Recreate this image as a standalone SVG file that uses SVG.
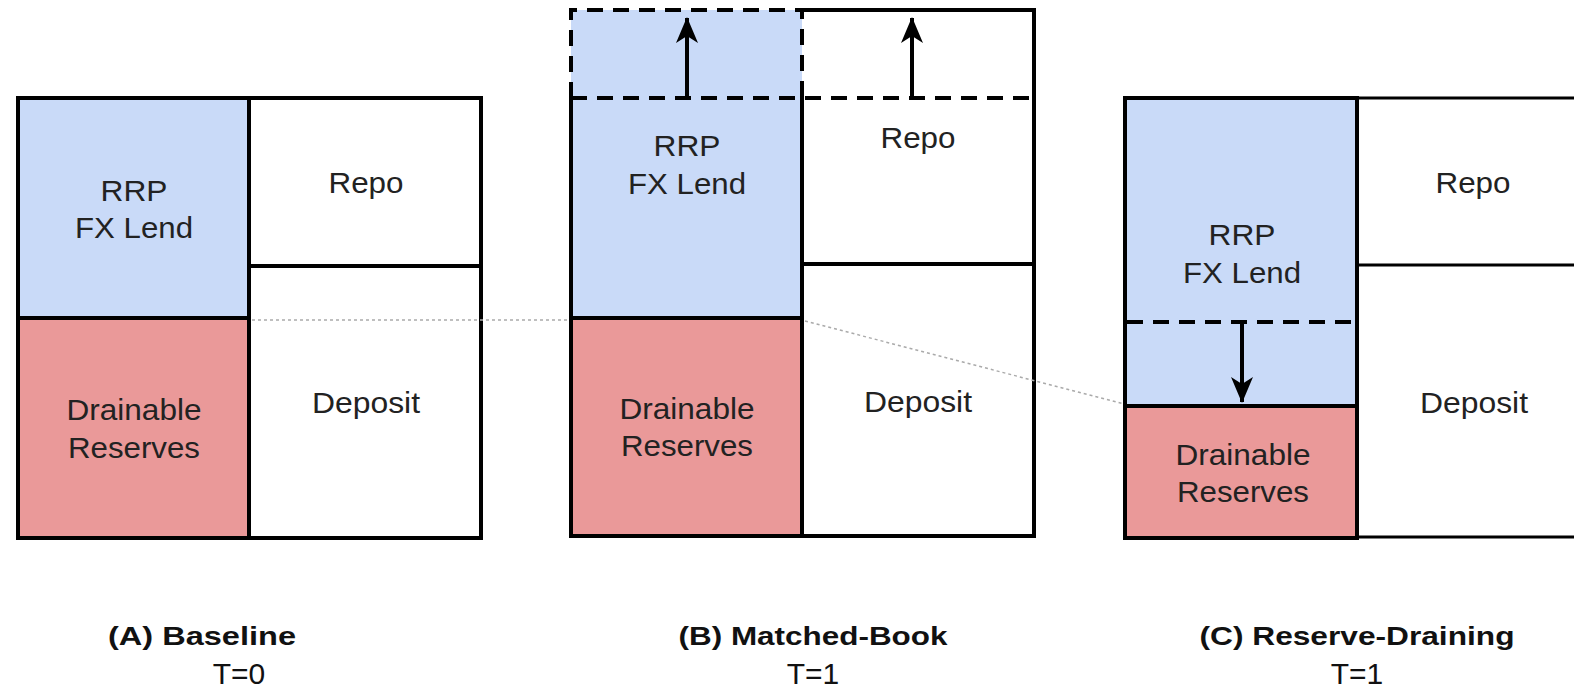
<svg xmlns="http://www.w3.org/2000/svg" width="1574" height="700" viewBox="0 0 1574 700">
<style>
.blue{fill:#c9daf8}
.red{fill:#ea9999}
.white{fill:#ffffff}
.solid{fill:none;stroke:#000;stroke-width:4;stroke-linejoin:miter;stroke-linecap:square}
.thin{fill:none;stroke:#000;stroke-width:3}
.dash{fill:none;stroke:#000;stroke-width:4;stroke-dasharray:16 10}
.dot{fill:none;stroke:#aaaaaa;stroke-width:1.5;stroke-dasharray:3 3}
.shaft{fill:none;stroke:#000;stroke-width:4}
.t{font-family:"Liberation Sans",Arial,sans-serif;font-size:29px;fill:#222;text-anchor:middle}
.cap{font-family:"Liberation Sans",Arial,sans-serif;font-size:26px;font-weight:bold;fill:#111;text-anchor:middle}
.tt{font-family:"Liberation Sans",Arial,sans-serif;font-size:30px;fill:#111;text-anchor:middle}
</style>
<defs>
<marker id="head" viewBox="0 0 26 24" refX="25" refY="12" markerWidth="26" markerHeight="24" markerUnits="userSpaceOnUse" orient="auto">
<path d="M0,1 L26,12 L0,23 L7,12 Z" fill="#000"/>
</marker>
</defs>
<rect width="1574" height="700" fill="#ffffff"/>

<g id="panelA">
<rect class="blue" x="18" y="98" width="231" height="220"/>
<rect class="red" x="18" y="318" width="231" height="220"/>
<rect class="white" x="249" y="98" width="232" height="440"/>
<path class="solid" d="M18,98 H481 V538 H18 Z M249,98 V538 M18,318 H249 M249,266 H481"/>
<text class="t" x="134" y="201" textLength="67" lengthAdjust="spacingAndGlyphs">RRP</text>
<text class="t" x="134" y="238" textLength="118" lengthAdjust="spacingAndGlyphs">FX Lend</text>
<text class="t" x="366" y="193" textLength="75" lengthAdjust="spacingAndGlyphs">Repo</text>
<text class="t" x="366" y="413" textLength="108" lengthAdjust="spacingAndGlyphs">Deposit</text>
<text class="t" x="134" y="420" textLength="135" lengthAdjust="spacingAndGlyphs">Drainable</text>
<text class="t" x="134" y="458" textLength="132" lengthAdjust="spacingAndGlyphs">Reserves</text>
</g>

<g id="panelB">
<rect class="blue" x="571" y="10" width="231" height="308"/>
<rect class="red" x="571" y="318" width="231" height="218"/>
<rect class="white" x="802" y="10" width="232" height="526"/>
<path class="solid" d="M571,98 V536 H1034 V10 H802 M802,98 V536 M571,318 H802 M802,264 H1034"/>
<path class="dash" d="M571,98 V10 H802 V98 M571,98 H1034"/>
<text class="t" x="687" y="156" textLength="67" lengthAdjust="spacingAndGlyphs">RRP</text>
<text class="t" x="687" y="194" textLength="118" lengthAdjust="spacingAndGlyphs">FX Lend</text>
<text class="t" x="918" y="148" textLength="75" lengthAdjust="spacingAndGlyphs">Repo</text>
<text class="t" x="918" y="412" textLength="108" lengthAdjust="spacingAndGlyphs">Deposit</text>
<text class="t" x="687" y="419" textLength="135" lengthAdjust="spacingAndGlyphs">Drainable</text>
<text class="t" x="687" y="456" textLength="132" lengthAdjust="spacingAndGlyphs">Reserves</text>
</g>

<g id="panelC">
<rect class="blue" x="1125" y="98" width="232" height="308"/>
<rect class="red" x="1125" y="406" width="232" height="132"/>
<rect class="white" x="1357" y="98" width="232" height="440"/>
<path class="solid" d="M1357,98 H1125 V538 H1357 Z M1125,406 H1357"/>
<path class="thin" d="M1357,98 H1580 M1357,265 H1580 M1357,537 H1580"/>
<path class="dash" d="M1127,322 H1355"/>
<text class="t" x="1242" y="245" textLength="67" lengthAdjust="spacingAndGlyphs">RRP</text>
<text class="t" x="1242" y="283" textLength="118" lengthAdjust="spacingAndGlyphs">FX Lend</text>
<text class="t" x="1473" y="193" textLength="75" lengthAdjust="spacingAndGlyphs">Repo</text>
<text class="t" x="1474" y="413" textLength="108" lengthAdjust="spacingAndGlyphs">Deposit</text>
<text class="t" x="1243" y="465" textLength="135" lengthAdjust="spacingAndGlyphs">Drainable</text>
<text class="t" x="1243" y="502" textLength="132" lengthAdjust="spacingAndGlyphs">Reserves</text>
</g>

<g id="connectors">
<path class="dot" d="M252,320 H570"/>
<path class="dot" d="M805,321 L1124,404"/>
<path class="shaft" d="M687,98 V18" marker-end="url(#head)"/>
<path class="shaft" d="M912,98 V18" marker-end="url(#head)"/>
<path class="shaft" d="M1242,322 V402" marker-end="url(#head)"/>
</g>

<g id="labels">
<text class="cap" x="202" y="645" textLength="188" lengthAdjust="spacingAndGlyphs">(A) Baseline</text>
<text class="cap" x="813" y="645" textLength="269" lengthAdjust="spacingAndGlyphs">(B) Matched-Book</text>
<text class="cap" x="1357" y="645" textLength="315" lengthAdjust="spacingAndGlyphs">(C) Reserve-Draining</text>
<text class="tt" x="239" y="684">T=0</text>
<text class="tt" x="813" y="684">T=1</text>
<text class="tt" x="1357" y="684">T=1</text>
</g>
</svg>
